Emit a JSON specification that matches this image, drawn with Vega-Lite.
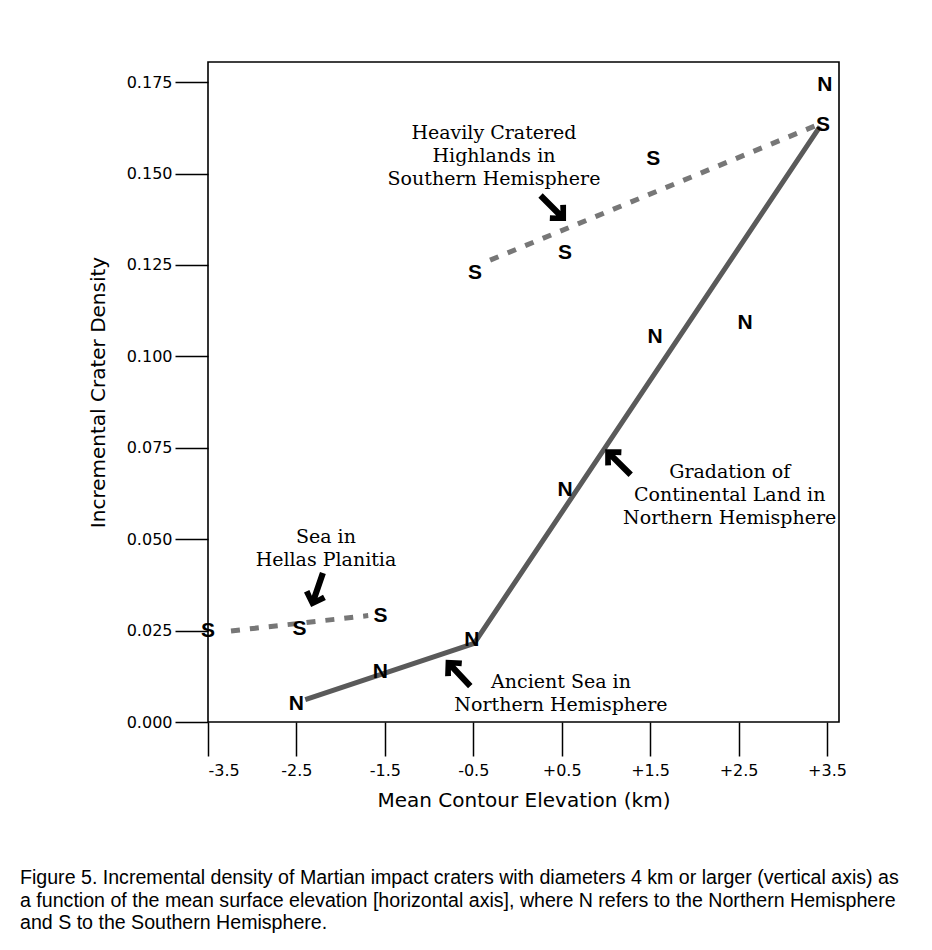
{
  "$schema": "https://vega.github.io/schema/vega-lite/v6.json",
  "width": 631,
  "height": 660,
  "autosize": {"type": "none"},
  "padding": {"left": 208, "top": 62, "right": 93, "bottom": 228},
  "background": "white",
  "config": {
    "font": "Liberation Sans",
    "view": {"stroke": "black", "strokeWidth": 1.6},
    "axis": {
      "domain": false,
      "grid": false,
      "tickColor": "black",
      "tickWidth": 1.5,
      "labelColor": "black",
      "labelFont": "DejaVu Sans",
      "labelFontSize": 16,
      "titleColor": "black",
      "titleFont": "DejaVu Sans",
      "titleFontSize": 20,
      "titleFontWeight": "normal"
    },
    "title": {
      "orient": "bottom",
      "anchor": "start",
      "frame": "group",
      "font": "Liberation Sans",
      "fontSize": 19.6,
      "fontWeight": "normal",
      "color": "black",
      "lineHeight": 22.5,
      "dx": -188,
      "offset": 59
    }
  },
  "title": {
    "text": [
      "Figure 5. Incremental density of Martian impact craters with diameters 4 km or larger (vertical axis) as",
      "a function of the mean surface elevation [horizontal axis], where N refers to the Northern Hemisphere",
      "and S  to the Southern Hemisphere."
    ]
  },
  "datasets": {
    "lines": [
      {"seg": "N", "x": -2.4, "y": 0.0061, "o": 1},
      {"seg": "N", "x": -0.49, "y": 0.0215, "o": 2},
      {"seg": "N", "x": 3.42, "y": 0.1628, "o": 3},
      {"seg": "S1", "x": -0.31, "y": 0.1263, "o": 1},
      {"seg": "S1", "x": 3.383, "y": 0.1632, "o": 2},
      {"seg": "S2", "x": -3.24, "y": 0.0249, "o": 1},
      {"seg": "S2", "x": -1.688, "y": 0.0291, "o": 2}
    ],
    "points": [
      {"hem": "N", "x": -2.5, "y": 0.0048},
      {"hem": "N", "x": -1.55, "y": 0.0138},
      {"hem": "N", "x": -0.515, "y": 0.0223},
      {"hem": "N", "x": 0.537, "y": 0.0634},
      {"hem": "N", "x": 1.555, "y": 0.1054},
      {"hem": "N", "x": 2.573, "y": 0.109},
      {"hem": "N", "x": 3.477, "y": 0.1742},
      {"hem": "S", "x": -3.5, "y": 0.025},
      {"hem": "S", "x": -2.465, "y": 0.0255},
      {"hem": "S", "x": -1.55, "y": 0.029},
      {"hem": "S", "x": -0.48, "y": 0.1227},
      {"hem": "S", "x": 0.537, "y": 0.1282},
      {"hem": "S", "x": 1.536, "y": 0.1541},
      {"hem": "S", "x": 3.455, "y": 0.1632}
    ],
    "notes": [
      {"note": "Heavily Cratered\nHighlands in\nSouthern Hemisphere", "x": -0.266, "y": 0.1611},
      {"note": "Sea in\nHellas Planitia", "x": -2.166, "y": 0.0506},
      {"note": "Ancient Sea in\nNorthern Hemisphere", "x": 0.492, "y": 0.0109},
      {"note": "Gradation of\nContinental Land in\nNorthern Hemisphere", "x": 2.4, "y": 0.0684}
    ],
    "arrows": [
      {"x": 0.405, "y": 0.1405, "angle": 135},
      {"x": -2.267, "y": 0.0361, "angle": 199},
      {"x": -0.673, "y": 0.0134, "angle": 317},
      {"x": 1.136, "y": 0.0711, "angle": 315}
    ]
  },
  "layer": [
    {
      "data": {"name": "lines"},
      "transform": [{"filter": "datum.seg === 'N'"}],
      "mark": {"type": "line", "color": "#5a5a5a", "strokeWidth": 5, "clip": false},
      "encoding": {
        "x": {
          "field": "x",
          "type": "quantitative",
          "scale": {"domain": [-3.5, 3.636], "nice": false, "zero": false},
          "axis": {
            "values": [-3.5, -2.5, -1.5, -0.5, 0.5, 1.5, 2.5, 3.5],
            "labelExpr": "datum.value < 0 ? '-' + format(-datum.value, '.1f') : '+' + format(datum.value, '.1f')",
            "tickSize": 34,
            "labelPadding": 6,
            "title": "Mean Contour Elevation (km)",
            "titlePadding": 12
          }
        },
        "y": {
          "field": "y",
          "type": "quantitative",
          "scale": {"domain": [0, 0.1805], "nice": false},
          "axis": {
            "values": [0, 0.025, 0.05, 0.075, 0.1, 0.125, 0.15, 0.175],
            "format": ".3f",
            "tickSize": 33,
            "labelPadding": 3,
            "title": "Incremental Crater Density",
            "titlePadding": 18
          }
        },
        "order": {"field": "o", "type": "quantitative"}
      }
    },
    {
      "data": {"name": "lines"},
      "transform": [{"filter": "datum.seg !== 'N'"}],
      "mark": {"type": "line", "color": "#777777", "strokeWidth": 5, "strokeDash": [9, 10], "clip": false},
      "encoding": {
        "x": {"field": "x", "type": "quantitative"},
        "y": {"field": "y", "type": "quantitative"},
        "detail": {"field": "seg", "type": "nominal"},
        "order": {"field": "o", "type": "quantitative"}
      }
    },
    {
      "data": {"name": "points"},
      "mark": {"type": "text", "font": "Liberation Sans", "fontWeight": "bold", "fontSize": 21, "align": "center", "baseline": "middle", "color": "black"},
      "encoding": {
        "x": {"field": "x", "type": "quantitative"},
        "y": {"field": "y", "type": "quantitative"},
        "text": {"field": "hem", "type": "nominal"}
      }
    },
    {
      "data": {"name": "notes"},
      "mark": {"type": "text", "font": "DejaVu Serif", "fontSize": 19, "align": "center", "baseline": "middle", "lineBreak": "\n", "lineHeight": 23, "color": "black"},
      "encoding": {
        "x": {"field": "x", "type": "quantitative"},
        "y": {"field": "y", "type": "quantitative"},
        "text": {"field": "note", "type": "nominal"}
      }
    },
    {
      "data": {"name": "arrows"},
      "mark": {
        "type": "point",
        "shape": "M0,-1 L0.64,-0.36 L0.4,-0.14 L0.17,-0.39 L0.17,1 L-0.17,1 L-0.17,-0.39 L-0.4,-0.14 L-0.64,-0.36 Z",
        "filled": true,
        "color": "black",
        "opacity": 1,
        "size": 1300
      },
      "encoding": {
        "x": {"field": "x", "type": "quantitative"},
        "y": {"field": "y", "type": "quantitative"},
        "angle": {"field": "angle", "type": "quantitative", "scale": null}
      }
    }
  ]
}
